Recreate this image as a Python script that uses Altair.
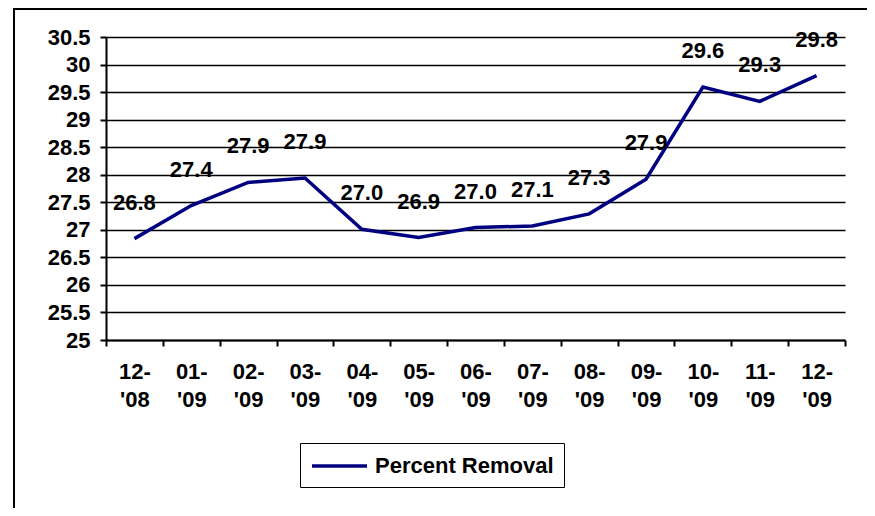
import altair as alt
import pandas as pd

months = ["12- '08", "01- '09", "02- '09", "03- '09", "04- '09", "05- '09", "06- '09",
          "07- '09", "08- '09", "09- '09", "10- '09", "11- '09", "12- '09"]
removal = [26.84, 27.44, 27.86, 27.94, 27.01, 26.86, 27.04, 27.07, 27.29, 27.92, 29.59, 29.33, 29.80]
series_name = "Percent Removal"
y_ticks = [25, 25.5, 26, 26.5, 27, 27.5, 28, 28.5, 29, 29.5, 30, 30.5]

df = pd.DataFrame({"month": months, "value": removal, "series": [series_name] * len(months)})

FONT = "Liberation Sans"
FS = 22

x_enc = alt.X("month:N", sort=months, title=None,
              axis=alt.Axis(labelExpr="split(datum.label, ' ')", labelAngle=0,
                            tickBand="extent", tickSize=6, tickWidth=2, labelPadding=15,
                            labelLineHeight=28, domainWidth=2, domainColor="black",
                            tickColor="black", grid=False, labelOverlap=False))
y_enc = alt.Y("value:Q", title=None,
              scale=alt.Scale(domain=[25, 30.5], nice=False, zero=False),
              axis=alt.Axis(values=y_ticks, format="~g", tickSize=6, tickWidth=2,
                            labelPadding=10, domainWidth=2, domainColor="black",
                            tickColor="black", grid=True, gridColor="black", gridWidth=1.5,
                            gridOpacity=1, labelOverlap=False, labelBound=False))

base = alt.Chart(df)

line = base.mark_line(strokeWidth=3.5).encode(
    x=x_enc, y=y_enc,
    color=alt.Color("series:N", scale=alt.Scale(domain=[series_name], range=["#000080"]),
                    legend=alt.Legend(title=None, orient="none", legendX=194, legendY=406,
                                      symbolType="M-1,0H4", symbolSize=484, symbolStrokeWidth=3.5,
                                      labelFont=FONT, labelFontSize=FS, labelFontWeight="bold",
                                      labelColor="black", labelOffset=39, padding=10,
                                      strokeColor="black", fillColor="white", labelLimit=400))
)

labels = base.mark_text(font=FONT, fontSize=FS, fontWeight="bold", color="black",
                        baseline="middle", align="center", dy=-36).encode(
    x=x_enc,
    y=y_enc,
    text=alt.Text("value:Q", format=".1f"),
)

frame = alt.Chart(alt.Data(values=[{"a": 1}])).mark_rect(
    filled=False, stroke="black", strokeWidth=2
).encode(x=alt.value(-92), x2=alt.value(763), y=alt.value(-28), y2=alt.value(490))

chart = alt.layer(frame, line, labels).properties(
    width=739, height=303,
    autosize=alt.AutoSizeParams(type="none"),
    padding={"left": 98, "top": 29, "right": 22, "bottom": 168},
).configure_view(stroke=None).configure_axis(
    labelFont=FONT, labelFontSize=FS, labelFontWeight="bold", labelColor="black"
)

chart.save("out.html", embed_options={"renderer": "svg", "actions": False})
